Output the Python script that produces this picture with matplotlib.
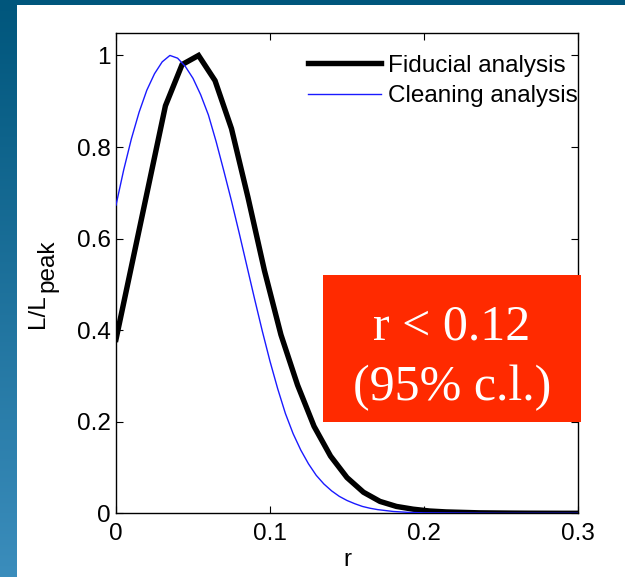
"""Likelihood of r: fiducial vs cleaning analysis, slide-style figure."""

import matplotlib
matplotlib.use("Agg")
import matplotlib.pyplot as plt
from matplotlib.patches import Rectangle
import numpy as np

plt.rcParams.update({
    "font.family": ["Liberation Sans", "DejaVu Sans"],
    "font.size": 17.5,
})

# ---------------------------------------------------------------------------
# Data
# ---------------------------------------------------------------------------
fid_r = [0.0, 0.0107, 0.0214, 0.0321, 0.0429, 0.0536, 0.0643, 0.0750,
         0.0857, 0.0964, 0.1071, 0.1179, 0.1286, 0.1393, 0.1500, 0.1607,
         0.1714, 0.1821, 0.1929, 0.2036, 0.2143, 0.2250, 0.2357, 0.2464,
         0.2571, 0.2679, 0.2786, 0.2893, 0.3000]
fid_L = [0.38, 0.55, 0.72, 0.89, 0.98, 1.00, 0.945, 0.84,
         0.69, 0.53, 0.39, 0.28, 0.19, 0.125, 0.078, 0.046,
         0.026, 0.015, 0.009, 0.005, 0.003, 0.002, 0.001, 0.0007,
         0.0004, 0.0002, 0.0001, 0.0, 0.0]

cln_r = [0.000, 0.005, 0.010, 0.015, 0.020, 0.025, 0.030, 0.035, 0.040,
         0.045, 0.050, 0.055, 0.060, 0.065, 0.070, 0.075, 0.080, 0.085,
         0.090, 0.095, 0.100, 0.105, 0.110, 0.115, 0.120, 0.125, 0.130,
         0.135, 0.140, 0.145, 0.150, 0.155, 0.160, 0.165, 0.170, 0.175,
         0.180, 0.185, 0.190, 0.200, 0.250, 0.300]
cln_L = [0.673, 0.750, 0.818, 0.876, 0.924, 0.960, 0.986, 1.000, 0.994,
         0.976, 0.950, 0.914, 0.870, 0.812, 0.748, 0.682, 0.612, 0.540,
         0.468, 0.398, 0.332, 0.272, 0.218, 0.174, 0.138, 0.108, 0.083,
         0.064, 0.049, 0.037, 0.028, 0.021, 0.015, 0.011, 0.008, 0.006,
         0.004, 0.003, 0.002, 0.001, 0.0, 0.0]

series_labels = ["Fiducial analysis", "Cleaning analysis"]
x_ticks = [0, 0.1, 0.2, 0.3]
x_ticklabels = ["0", "0.1", "0.2", "0.3"]
y_ticks = [0, 0.2, 0.4, 0.6, 0.8, 1.0]
y_ticklabels = ["0", "0.2", "0.4", "0.6", "0.8", "1"]
ylabel_main, ylabel_sub = "L/L", "peak"
box_lines = ["r < 0.12", "(95% c.l.)"]

W, H = 625, 577
fig = plt.figure(figsize=(W / 100, H / 100), dpi=100, facecolor="white")

# slide background: dark top strip and blue gradient on the left
top = fig.add_axes([0, 1 - 5 / H, 1, 5 / H])
top.set_axis_off()
top.add_patch(Rectangle((0, 0), 1, 1, color="#00567c", transform=top.transAxes))
side = fig.add_axes([0, 0, 17 / W, 1])
side.set_axis_off()
grad = np.linspace(0, 1, 256)[:, None]
c_top = np.array([0x00, 0x56, 0x7c]) / 255
c_bot = np.array([0x3b, 0x8d, 0xbc]) / 255
img = c_top[None, None, :] * (1 - grad[..., None]) + c_bot[None, None, :] * grad[..., None]
side.imshow(img, aspect="auto", extent=[0, 1, 0, 1])

ax = fig.add_axes([116 / W, 1 - 513.3 / H, 462 / W, (513.3 - 33) / H])
ax.plot(fid_r, fid_L, color="black", lw=3.9, solid_joinstyle="miter",
        label=series_labels[0], zorder=3)
ax.plot(cln_r, cln_L, color="#1a1aff", lw=1.0, label=series_labels[1], zorder=4)

ax.set_xlim(0, 0.3)
ax.set_ylim(0, 1.049)
ax.set_xticks(x_ticks)
ax.set_xticklabels(x_ticklabels)
ax.set_yticks(y_ticks)
ax.set_yticklabels(y_ticklabels)
ax.tick_params(direction="in", length=5, width=0.8, top=True, right=True)
ax.tick_params(axis="x", pad=7)
ax.tick_params(axis="y", pad=4)
for s in ax.spines.values():
    s.set_linewidth(1.0)
ax.set_xlabel("r", labelpad=3)

# MATLAB-style y label with a full-size subscript
fig.text(38 / W, 1 - 311 / H, ylabel_main, rotation=90, ha="center", va="center")
fig.text(47 / W, 1 - 266 / H, ylabel_sub, rotation=90, ha="center", va="center")

leg = ax.legend(loc="upper right", bbox_to_anchor=(1.0, 0.955), frameon=False,
                borderpad=0, borderaxespad=0, handlelength=3.0,
                handletextpad=0.3, labelspacing=0.35)

# red result box, drawn in figure pixels
fig.patches.append(Rectangle((323 / W, 1 - 421.5 / H), 258 / W, 146.5 / H,
                             transform=fig.transFigure, facecolor="#ff2a00",
                             edgecolor="none", zorder=5))
fig.text(452 / W, 1 - 327 / H, box_lines[0], color="white", ha="center",
         va="center", family=["Liberation Serif", "DejaVu Serif"], fontsize=36,
         zorder=6)
fig.text(452 / W, 1 - 388 / H, box_lines[1], color="white", ha="center",
         va="center", family=["Liberation Serif", "DejaVu Serif"], fontsize=36,
         zorder=6)

fig.savefig("out.png", dpi=100, facecolor="white")
